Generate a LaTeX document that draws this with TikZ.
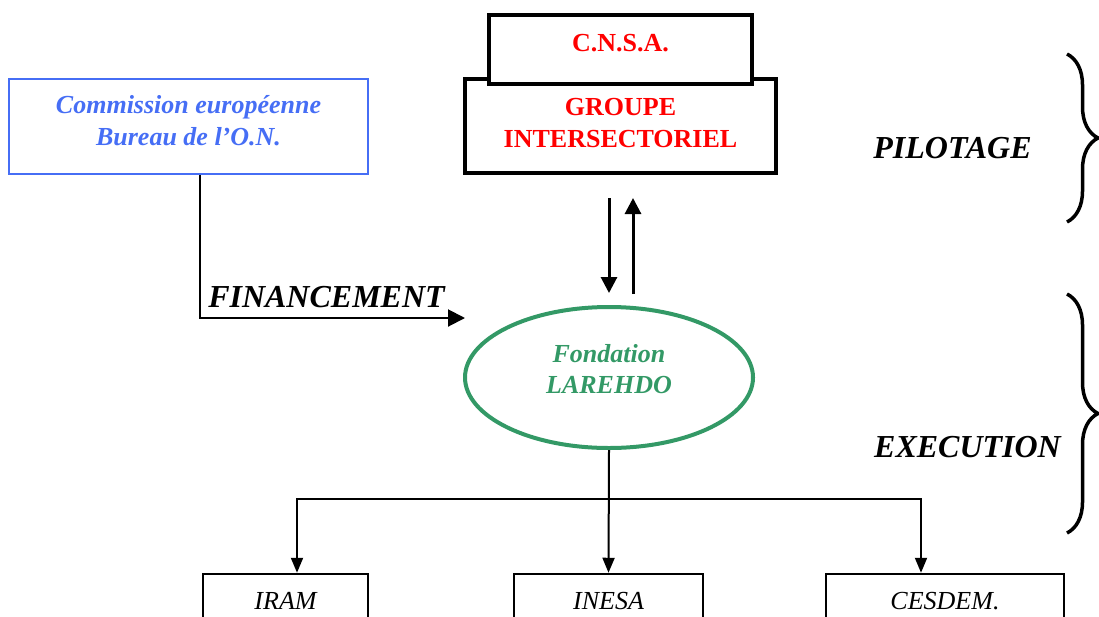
\documentclass[tikz,border=0pt]{standalone}
\usepackage{fontspec}
\setmainfont{Liberation Serif}
\usetikzlibrary{arrows.meta,positioning,shapes.geometric,decorations.pathreplacing}
\definecolor{cebleu}{RGB}{70,110,245}
\definecolor{vertfond}{RGB}{51,153,102}

\begin{document}
\begin{tikzpicture}[
    x=1pt, y=-1pt,
    pilot/.style={draw, line width=4pt, fill=white, text=red, align=center, inner sep=0pt, font=\fontsize{26}{32}\selectfont\bfseries},
    commbox/.style={draw=cebleu, line width=1.8pt, text=cebleu, align=center, inner sep=0pt, font=\fontsize{26}{32}\selectfont\bfseries\itshape},
    fondbox/.style={ellipse, draw=vertfond, line width=4pt, text=vertfond, align=center, inner sep=0pt, font=\fontsize{26}{31}\selectfont\bfseries\itshape},
    execbox/.style={draw, line width=2.5pt, minimum height=54pt, inner sep=0pt, font=\fontsize{26}{32}\selectfont\itshape},
    side/.style={anchor=base, font=\fontsize{32}{38}\selectfont\bfseries\itshape},
    arr/.style={-{Triangle[length=17pt,width=17pt]}, line width=2pt},
    dblarr/.style={-{Triangle[length=16pt,width=16pt]}, line width=3pt},
    thinarr/.style={-{Triangle[length=15pt,width=12pt]}, line width=2pt},
    acc/.style={decorate, decoration={brace, amplitude=31pt}, line width=3.5pt},
]
\useasboundingbox (0,0) rectangle (1099,616);

% Pilotage
\node[pilot, minimum width=311pt, minimum height=94pt, text height=50pt, text depth=8pt] (groupe) at (620.5,126) {GROUPE\\INTERSECTORIEL};
\node[pilot, minimum width=263pt, minimum height=69pt, text height=18pt, text depth=15pt] (cnsa) at (620.5,49.5) {C.N.S.A.};
\node[commbox, minimum width=359pt, minimum height=95pt, text height=50pt, text depth=12pt] (comm) at (188.5,126.5) {Commission européenne\\Bureau de l’O.N.};

% Execution
\node[fondbox, minimum width=288pt, minimum height=141pt, text height=50pt, text depth=19pt] (fond) at (609,377.5) {Fondation\\LAREHDO};
\node[execbox, minimum width=165pt] (iram) at (285.5,601) {IRAM};
\node[execbox, minimum width=189pt] (inesa) at (608.5,601) {INESA};
\node[execbox, minimum width=238pt] (cesdem) at (945,601) {CESDEM.};

% Side labels
\node[side] (finance) at (326.5,307) {FINANCEMENT};
\node[side] (pilotage) at (952.5,158) {PILOTAGE};
\node[side] (execution) at (967.5,457) {EXECUTION};

% Arrows
\coordinate (fintip) at (465,318);
\draw[arr] ([xshift=11.5pt]comm.south) |- (fintip);
\draw[dblarr, shorten <=23pt, shorten >=12pt] (groupe.south -| fond.north) -- (fond.north);
\draw[dblarr, shorten <=11pt, shorten >=23pt] ([xshift=24pt]fond.north) -- ([xshift=24pt]fond.north |- groupe.south);
\coordinate (split) at (609,499);
\draw[thinarr] (fond.south) -- (inesa.north);
\draw[thinarr] (split) -| ([xshift=11.5pt]iram.north);
\draw[thinarr] (split) -| ([xshift=-24pt]cesdem.north);

% Braces
\draw[acc] (1067,54) -- (1067,222);
\draw[acc] (1067,294) -- (1067,533);
\end{tikzpicture}
\end{document}
